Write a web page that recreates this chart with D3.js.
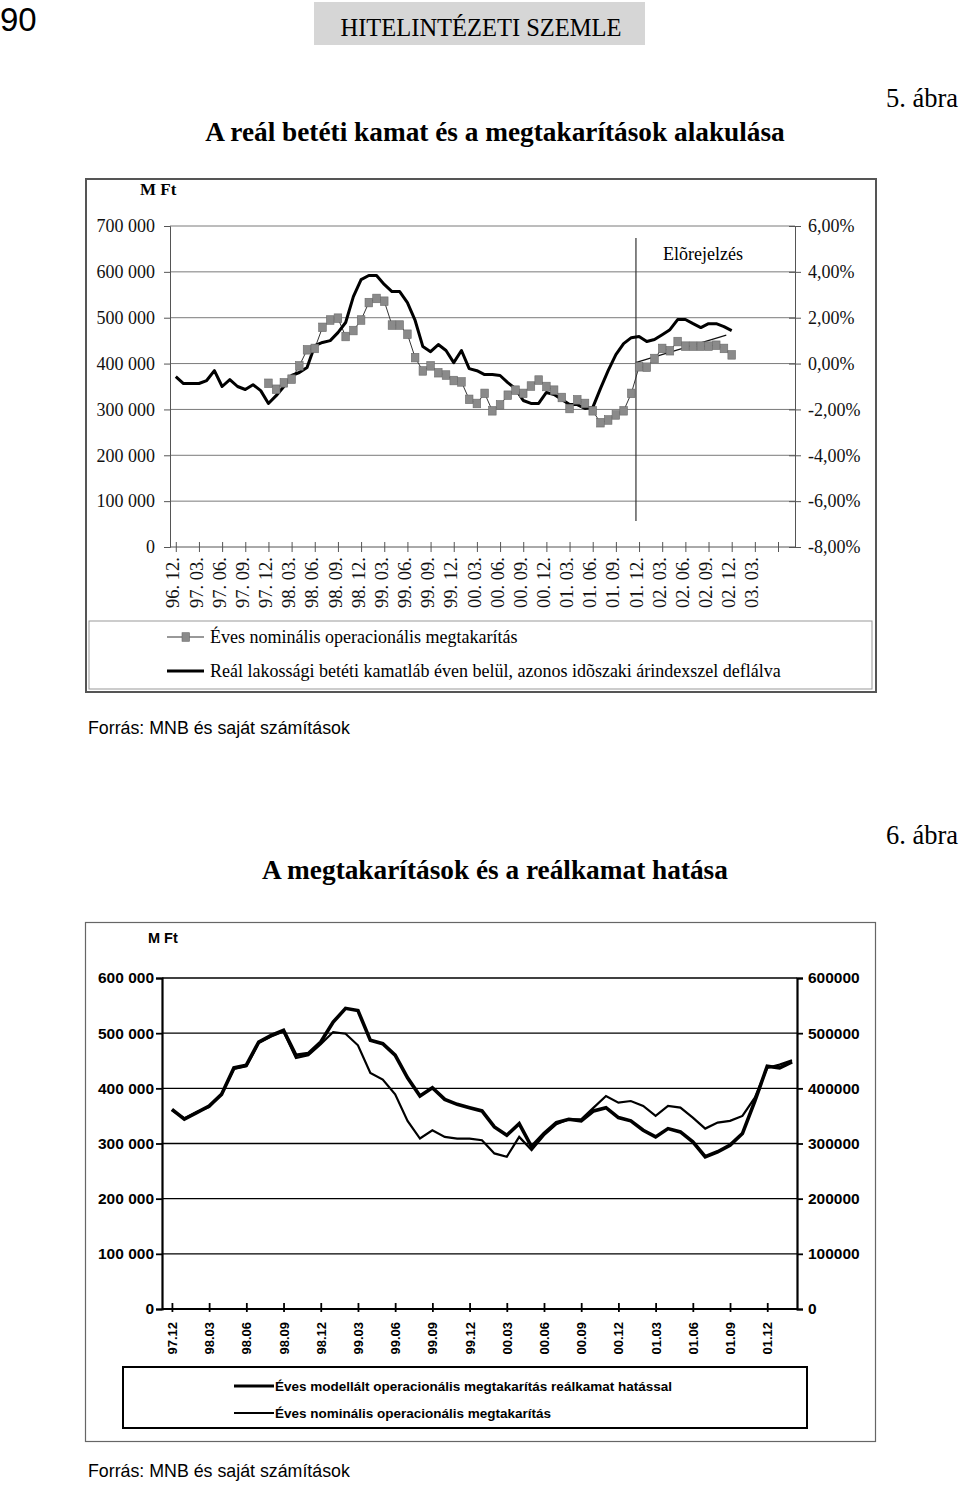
<!DOCTYPE html>
<html><head><meta charset="utf-8">
<script src="https://cdn.jsdelivr.net/npm/d3@7"></script>
<style>body{margin:0;background:#fff}svg{display:block}</style>
</head><body>
<svg id="page" width="960" height="1485"></svg>
<script>
// ---------- Chart 1 data (monthly, index 0 = 96.12) ----------
const xLabels1 = ["96. 12.","97. 03.","97. 06.","97. 09.","97. 12.","98. 03.","98. 06.","98. 09.","98. 12.",
  "99. 03.","99. 06.","99. 09.","99. 12.","00. 03.","00. 06.","00. 09.","00. 12.","01. 03.","01. 06.",
  "01. 09.","01. 12.","02. 03.","02. 06.","02. 09.","02. 12.","03. 03."];
// Real deposit rate, % (right axis), 96.12 .. 02.12
const realRate = [-0.57,-0.87,-0.87,-0.87,-0.74,-0.31,-1.00,-0.70,-1.00,-1.13,-0.92,-1.18,
  -1.74,-1.40,-1.00,-0.52,-0.39,-0.17,0.78,0.92,1.00,1.35,1.79,2.92,
  3.66,3.84,3.84,3.45,3.14,3.14,2.66,1.88,0.74,0.52,0.83,0.57,
  0.04,0.57,-0.22,-0.31,-0.48,-0.48,-0.52,-0.83,-1.09,-1.61,-1.74,-1.74,
  -1.26,-1.35,-1.57,-1.79,-1.79,-1.96,-1.92,-1.09,-0.31,0.39,0.87,1.13,
  1.18,0.96,1.05,1.26,1.48,1.92,1.92,1.74,1.57,1.74,1.74,1.61,1.44];
// Annual nominal operational savings, M Ft (left axis), 97.12 .. 02.12
const savingsStart = 12;
const savings = [357000,344000,358000,366000,395000,430000,433000,479000,495000,499000,459000,472000,
  495000,533000,542000,536000,484000,484000,464000,413000,384000,395000,380000,375000,
  363000,360000,322000,313000,335000,297000,310000,331000,342000,335000,351000,364000,
  350000,342000,326000,302000,321000,313000,297000,271000,277000,288000,297000,335000,
  393000,392000,411000,433000,428000,448000,438000,438000,438000,438000,440000,433000,419000];
const trendMonths = [59.55, 71.3];
const trendValues = [402000, 462000];
const forecastMonth = 59.6;
const leftTicks1 = [0,100000,200000,300000,400000,500000,600000,700000];
const rightTicks1 = [-8,-6,-4,-2,0,2,4,6];

// ---------- Chart 2 data (monthly, index 0 = 97.12) ----------
const xLabels2 = ["97.12","98.03","98.06","98.09","98.12","99.03","99.06","99.09","99.12",
  "00.03","00.06","00.09","00.12","01.03","01.06","01.09","01.12"];
const seriesThick = [362000,344000,356000,368000,389000,437000,442000,484000,496000,505000,460000,463000,
  484000,520000,545000,541000,487000,481000,460000,419000,386000,401000,380000,371000,
  365000,359000,330000,315000,336000,294000,318000,338000,344000,341000,359000,365000,
  347000,341000,324000,312000,327000,321000,303000,276000,285000,297000,318000,377000,440000,437000,448000];
const seriesThin = [360000,346000,357000,366000,390000,435000,440000,482000,494000,503000,455000,460000,
  480000,502000,499000,478000,428000,416000,389000,341000,309000,324000,312000,309000,
  309000,306000,282000,276000,312000,288000,315000,335000,344000,344000,365000,386000,
  374000,377000,368000,350000,368000,365000,347000,327000,338000,341000,350000,383000,437000,443000,451000];
const ticks2 = [0,100000,200000,300000,400000,500000,600000];
const legend2 = ["Éves modellált operacionális megtakarítás reálkamat hatással",
  "Éves nominális operacionális megtakarítás"];

// ---------- helpers ----------
const loc = d3.formatLocale({decimal:",",thousands:" ",grouping:[3],currency:["",""],minus:"-"});
const fmtSp = loc.format(",");
const fmtPct = v => loc.format(".2f")(v) + "%";
const svg = d3.select("#page");
const SERIF = "'Liberation Serif','Times New Roman',serif";
const SANS = "'Liberation Sans',Arial,sans-serif";
const FS1 = 18;

// ---------- header ----------
svg.append("text").attr("x",0).attr("y",31).attr("font-family",SANS).attr("font-size",33).text("90");
svg.append("rect").attr("x",314).attr("y",2).attr("width",331).attr("height",43).attr("fill","#d6d6d6");
svg.append("text").attr("x",481).attr("y",36).attr("text-anchor","middle").attr("font-family",SERIF)
  .attr("font-size",24.5).text("HITELINTÉZETI SZEMLE");

// ---------- chart 1 ----------
svg.append("text").attr("x",958).attr("y",107).attr("text-anchor","end").attr("font-family",SERIF)
  .attr("font-size",26.5).text("5. ábra");
svg.append("text").attr("x",495).attr("y",141).attr("text-anchor","middle").attr("font-family",SERIF)
  .attr("font-size",27.3).attr("font-weight","bold").text("A reál betéti kamat és a megtakarítások alakulása");
svg.append("rect").attr("x",86).attr("y",179).attr("width",790).attr("height",513)
  .attr("fill","none").attr("stroke","#555").attr("stroke-width",2);

const g1 = svg.append("g");
const x1 = d3.scaleLinear().domain([-0.75, 80.2]).range([170, 795]);
const yL = d3.scaleLinear().domain([0, 700000]).range([547, 226]);
const yR = d3.scaleLinear().domain([-8, 6]).range([547, 226]);

g1.append("text").attr("x",140).attr("y",195).attr("font-family",SERIF).attr("font-size",17)
  .attr("font-weight","bold").text("M Ft");

// gridlines
g1.selectAll("line.grid").data(leftTicks1.filter(d=>d>0)).join("line")
  .attr("x1",170).attr("x2",795).attr("y1",d=>yL(d)).attr("y2",d=>yL(d))
  .attr("stroke","#7a7a7a").attr("stroke-width",1);

const axL = g1.append("g").attr("transform","translate(170,0)")
  .call(d3.axisLeft(yL).tickValues(leftTicks1).tickFormat(fmtSp).tickSize(6).tickPadding(9));
const axR = g1.append("g").attr("transform","translate(795,0)")
  .call(d3.axisRight(yR).tickValues(rightTicks1).tickFormat(fmtPct).tickSize(6).tickPadding(7));
axR.selectAll(".tick line").attr("x1",-6);
const axB = g1.append("g").attr("transform","translate(0,547)")
  .call(d3.axisBottom(x1).tickValues(d3.range(0,79,3)).tickSizeOuter(0).tickSize(5)
    .tickFormat(d => xLabels1[d/3] || ""));
axB.selectAll(".tick line").attr("y1",-5);
axB.selectAll(".tick text").attr("transform","rotate(-90)").attr("text-anchor","end")
  .attr("x",-10).attr("y",-3).attr("dy","0.33em");
[axL,axR,axB].forEach(a=>{
  a.selectAll("path.domain").attr("stroke","#555");
  a.selectAll(".tick line").attr("stroke","#555");
  a.selectAll("text").attr("font-family",SERIF).attr("font-size",FS1).attr("fill","#111");
});
axB.selectAll("text").attr("font-size",18.5);
axB.select("path.domain").attr("d","M170,0H795");

// forecast line + label
g1.append("line").attr("x1",x1(forecastMonth)).attr("x2",x1(forecastMonth)).attr("y1",238).attr("y2",521)
  .attr("stroke","#333").attr("stroke-width",1.2);
g1.append("text").attr("x",703).attr("y",260).attr("text-anchor","middle").attr("font-family",SERIF)
  .attr("font-size",FS1).text("Elõrejelzés");

// savings line + squares
const savPts = savings.map((v,i)=>({m:i+savingsStart, v}));
g1.append("path").datum(savPts).attr("fill","none").attr("stroke","#333").attr("stroke-width",1)
  .attr("d", d3.line().x(d=>x1(d.m)).y(d=>yL(d.v)));
// trend
g1.append("path").datum(trendMonths.map((m,i)=>({m,v:trendValues[i]}))).attr("fill","none")
  .attr("stroke","#111").attr("stroke-width",1.2)
  .attr("d", d3.line().x(d=>x1(d.m)).y(d=>yL(d.v)));
// real rate
g1.append("path").datum(realRate.map((v,i)=>({m:i,v}))).attr("fill","none").attr("stroke","#000")
  .attr("stroke-width",3).attr("stroke-linejoin","round")
  .attr("d", d3.line().x(d=>x1(d.m)).y(d=>yR(d.v)));
g1.selectAll("rect.sq").data(savPts).join("rect")
  .attr("x",d=>x1(d.m)-3.8).attr("y",d=>yL(d.v)-4.3).attr("width",7.6).attr("height",8.6)
  .attr("fill","#8a8a8a").attr("stroke","#6a6a6a").attr("stroke-width",0.6);

// legend 1
g1.append("rect").attr("x",89).attr("y",621).attr("width",783).attr("height",68)
  .attr("fill","none").attr("stroke","#999").attr("stroke-width",1);
g1.append("line").attr("x1",167).attr("x2",204).attr("y1",637).attr("y2",637).attr("stroke","#333");
g1.append("rect").attr("x",182).attr("y",632.7).attr("width",7.6).attr("height",8.6)
  .attr("fill","#8a8a8a").attr("stroke","#6a6a6a").attr("stroke-width",0.6);
g1.append("text").attr("x",210).attr("y",643).attr("font-family",SERIF).attr("font-size",FS1)
  .text("Éves nominális operacionális megtakarítás");
g1.append("line").attr("x1",167).attr("x2",204).attr("y1",671).attr("y2",671).attr("stroke","#000").attr("stroke-width",3);
g1.append("text").attr("x",210).attr("y",677).attr("font-family",SERIF).attr("font-size",FS1)
  .text("Reál lakossági betéti kamatláb éven belül, azonos idõszaki árindexszel deflálva");

svg.append("text").attr("x",88).attr("y",734).attr("font-family",SANS).attr("font-size",17.8)
  .text("Forrás: MNB és saját számítások");

// ---------- chart 2 ----------
svg.append("text").attr("x",958).attr("y",844).attr("text-anchor","end").attr("font-family",SERIF)
  .attr("font-size",26.5).text("6. ábra");
svg.append("text").attr("x",495).attr("y",879).attr("text-anchor","middle").attr("font-family",SERIF)
  .attr("font-size",27.3).attr("font-weight","bold").text("A megtakarítások és a reálkamat hatása");
svg.append("rect").attr("x",85.5).attr("y",922.5).attr("width",790).attr("height",519)
  .attr("fill","none").attr("stroke","#666").attr("stroke-width",1.2);

const g2 = svg.append("g");
const x2 = d3.scaleLinear().domain([-0.8, 50.4]).range([162, 797]);
const y2 = d3.scaleLinear().domain([0, 600000]).range([1309, 978]);
g2.append("text").attr("x",148).attr("y",943).attr("font-family",SANS).attr("font-size",14.5)
  .attr("font-weight","bold").text("M Ft");
g2.selectAll("line.grid").data(ticks2.filter(d=>d>0)).join("line")
  .attr("x1",162).attr("x2",797).attr("y1",d=>y2(d)).attr("y2",d=>y2(d))
  .attr("stroke","#000").attr("stroke-width",1.3);
const a2L = g2.append("g").attr("transform","translate(162,0)")
  .call(d3.axisLeft(y2).tickValues(ticks2).tickFormat(fmtSp).tickSize(6).tickPadding(2));
const a2R = g2.append("g").attr("transform","translate(797,0)")
  .call(d3.axisRight(y2).tickValues(ticks2).tickFormat(d3.format("d")).tickSize(6).tickPadding(5));
const a2B = g2.append("g").attr("transform","translate(0,1309)")
  .call(d3.axisBottom(x2).tickValues(d3.range(0,49,3)).tickSizeOuter(0).tickSize(5)
    .tickFormat(d => xLabels2[d/3] || ""));
a2B.selectAll(".tick line").attr("y1",-6).attr("y2",3);
a2B.selectAll(".tick text").attr("transform","rotate(-90)").attr("text-anchor","end")
  .attr("x",-13).attr("y",0).attr("dy","0.35em");
a2B.select("path.domain").attr("d","M162,0H797");
[a2L,a2R,a2B].forEach(a=>{
  a.selectAll("path.domain").attr("stroke","#000").attr("stroke-width",2.2);
  a.selectAll(".tick line").attr("stroke","#000").attr("stroke-width",1.8);
  a.selectAll("text").attr("font-family",SANS).attr("font-weight","bold").attr("font-size",15.5).attr("fill","#000");
});
a2B.selectAll("text").attr("font-size",13);

const line2 = d3.line().x((d,i)=>x2(i)).y(d=>y2(d));
g2.append("path").datum(seriesThin).attr("fill","none").attr("stroke","#000").attr("stroke-width",2.2)
  .attr("d",line2);
g2.append("path").datum(seriesThick).attr("fill","none").attr("stroke","#000").attr("stroke-width",3.6)
  .attr("d",line2);

// legend 2
g2.append("rect").attr("x",123).attr("y",1367).attr("width",684).attr("height",61)
  .attr("fill","none").attr("stroke","#000").attr("stroke-width",2);
legend2.forEach((t,i)=>{
  const yy = 1386 + i*27;
  g2.append("line").attr("x1",234).attr("x2",274).attr("y1",yy).attr("y2",yy)
    .attr("stroke","#000").attr("stroke-width", i===0?3:2);
  g2.append("text").attr("x",275).attr("y",yy+5).attr("font-family",SANS).attr("font-weight","bold")
    .attr("font-size",13.5).text(t);
});

svg.append("text").attr("x",88).attr("y",1477).attr("font-family",SANS).attr("font-size",17.8)
  .text("Forrás: MNB és saját számítások");
</script>
</body></html>
